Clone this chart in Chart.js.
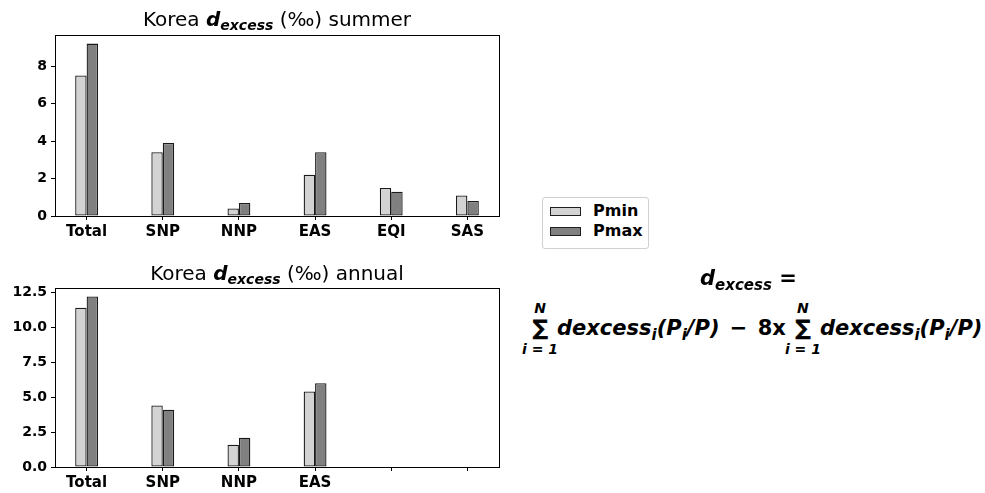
<!DOCTYPE html>
<html>
<head>
<meta charset="utf-8">
<script src="https://cdn.jsdelivr.net/npm/chart.js@4.4.0/dist/chart.umd.min.js"></script>
<style>
    body { margin: 0; background: #fff; font-family: "DejaVu Sans", sans-serif; }
    #wrap { position: relative; width: 985px; height: 493px; overflow: hidden; }
    canvas { position: absolute; left: 0; }
    .title { position: absolute; left: 0; width: 554px; text-align: center; font-size: 20px; line-height: 20px; color: #000; white-space: nowrap; }
    .bi { font-weight: bold; font-style: italic; }
    .title sub { font-size: 14px; vertical-align: -4px; line-height: 0; }
    #legend { position: absolute; left: 542px; top: 197px; width: 105px; height: 50px; border: 1px solid #d0d0d0; border-radius: 3px; }
    .item { position: absolute; left: 7px; height: 16px; }
    .swatch { position: absolute; left: 0; top: 2px; width: 29px; height: 7px; border: 1px solid #1f1f1f; }
    .lab { position: absolute; left: 43px; top: -2px; font-size: 16px; font-weight: bold; line-height: 16px; }
    .formula { position: absolute; font-weight: bold; font-style: italic; font-size: 21px; line-height: 21px; color: #000; white-space: nowrap; }
    .formula sub { font-size: 15px; vertical-align: -5px; line-height: 0; }
    .up-r { font-style: normal; }
    .minus { font-style: normal; margin: 0 3px; }
    .sum { display: inline-block; position: relative; width: 34px; text-align: center; vertical-align: baseline; }
    .sum .sig { font-style: normal; font-size: 21px; -webkit-text-stroke: 0.7px #000; }
    .sum .lim { position: absolute; left: -4px; width: 42px; text-align: center; font-size: 14px; line-height: 14px; }
    .sum .up { top: -17px; }
    .sum .lo { top: 24px; }
</style>
</head>
<body>
<div id="wrap">
    <canvas id="summerCanvas" width="510" height="245" style="top:0"></canvas>
    <canvas id="annualCanvas" width="510" height="243" style="top:250px"></canvas>
    <div class="title" style="top:9px">Korea <span class="bi">d<sub>excess</sub></span> (‰) summer</div>
    <div class="title" style="top:263px">Korea <span class="bi">d<sub>excess</sub></span> (‰) annual</div>
    <div id="legend"></div>
    <div class="formula" style="left:700px; top:268px">d<sub>excess</sub> <span class="up-r">=</span></div>
    <div class="formula" style="left:523px; top:318px"><span class="sum"><span class="lim up">N</span><span class="sig">∑</span><span class="lim lo">i = 1</span></span>dexcess<sub>i</sub>(P<sub>i</sub>/P) <span class="minus">−</span> <span class="up-r">8x</span><span class="sum"><span class="lim up">N</span><span class="sig">∑</span><span class="lim lo">i = 1</span></span>dexcess<sub>i</sub>(P<sub>i</sub>/P)</div>
</div>
<script>
// 数据
const summerLabels = ['Total', 'SNP', 'NNP', 'EAS', 'EQI', 'SAS'];
const annualLabels = ['Total', 'SNP', 'NNP', 'EAS', '', ''];
const seriesNames = ['Pmin', 'Pmax'];
const seriesColors = ['#d3d3d3', '#808080'];

const summerPmin = [7.5, 3.4, 0.4, 2.2, 1.5, 1.1];
const summerPmax = [9.2, 3.9, 0.7, 3.4, 1.3, 0.8];
const annualPmin = [11.4, 4.4, 1.6, 5.4, 0, 0];
const annualPmax = [12.2, 4.1, 2.1, 6.0, 0, 0];

const summerYTicks = [0, 2, 4, 6, 8];
const annualYTicks = [0, 2.5, 5, 7.5, 10, 12.5];

Chart.defaults.font.family = '"DejaVu Sans", sans-serif';
Chart.defaults.font.weight = 'bold';
Chart.defaults.color = '#000';

// 外框
const framePlugin = {
    id: 'frame',
    afterDatasetsDraw(chart) {
        const a = chart.chartArea;
        const ctx = chart.ctx;
        ctx.save();
        ctx.strokeStyle = '#000';
        ctx.lineWidth = 1;
        ctx.strokeRect(Math.round(a.left) + 0.5, Math.round(a.top) + 0.5, Math.round(a.right - a.left), Math.round(a.bottom - a.top));
        ctx.restore();
    }
};

function makeChart(canvasId, labels, pmin, pmax, yTicks, yMax, decimals, padTop, xHeight) {
    const ctx = document.getElementById(canvasId).getContext('2d');
    const toPoints = arr => arr.map((v, i) => ({ x: i, y: v }));
    return new Chart(ctx, {
        type: 'bar',
        data: {
            datasets: [{
                label: seriesNames[0],
                data: toPoints(pmin),
                backgroundColor: seriesColors[0],
                borderColor: '#1a1a1a',
                borderWidth: 1.3,
                borderSkipped: false,
                categoryPercentage: 0.3,
                barPercentage: 1.0
            }, {
                label: seriesNames[1],
                data: toPoints(pmax),
                backgroundColor: seriesColors[1],
                borderColor: '#1a1a1a',
                borderWidth: 1.3,
                borderSkipped: false,
                categoryPercentage: 0.3,
                barPercentage: 1.0
            }]
        },
        options: {
            responsive: false,
            animation: false,
            layout: { padding: { left: 0, right: 11, top: padTop, bottom: 0 } },
            plugins: {
                legend: { display: false },
                tooltip: { enabled: false }
            },
            scales: {
                x: {
                    type: 'linear',
                    min: -0.415,
                    max: 5.415,
                    offset: false,
                    afterBuildTicks: scale => { scale.ticks = labels.map((l, i) => ({ value: i })); },
                    afterFit: scale => { scale.height = xHeight; },
                    ticks: {
                        autoSkip: false,
                        maxRotation: 0,
                        padding: 3,
                        font: { size: 15, weight: 'bold' },
                        callback: (v, i) => labels[i]
                    },
                    grid: { display: true, drawOnChartArea: false, offset: false, tickLength: 4, color: '#000' },
                    border: { display: true, color: '#000' }
                },
                y: {
                    min: 0,
                    max: yMax,
                    afterBuildTicks: scale => { scale.ticks = yTicks.map(v => ({ value: v })); },
                    afterFit: scale => { scale.width = 55; },
                    ticks: {
                        padding: 4,
                        font: { size: 14, weight: 'bold' },
                        callback: v => v.toFixed(decimals)
                    },
                    grid: { display: true, drawOnChartArea: false, tickLength: 4, color: '#000' },
                    border: { display: true, color: '#000' }
                }
            }
        },
        plugins: [framePlugin]
    });
}

const charts = {};
charts.summer = makeChart('summerCanvas', summerLabels, summerPmin, summerPmax, summerYTicks, 9.66, 0, 35, 29);
charts.annual = makeChart('annualCanvas', annualLabels, annualPmin, annualPmax, annualYTicks, 12.81, 1, 38, 26);

// 图例
const legend = document.getElementById('legend');
seriesNames.forEach((name, i) => {
    const item = document.createElement('div');
    item.className = 'item';
    item.style.top = (7 + i * 20) + 'px';
    item.innerHTML = '<div class="swatch" style="background:' + seriesColors[i] + '"></div><div class="lab">' + name + '</div>';
    legend.appendChild(item);
});
</script>
</body>
</html>
